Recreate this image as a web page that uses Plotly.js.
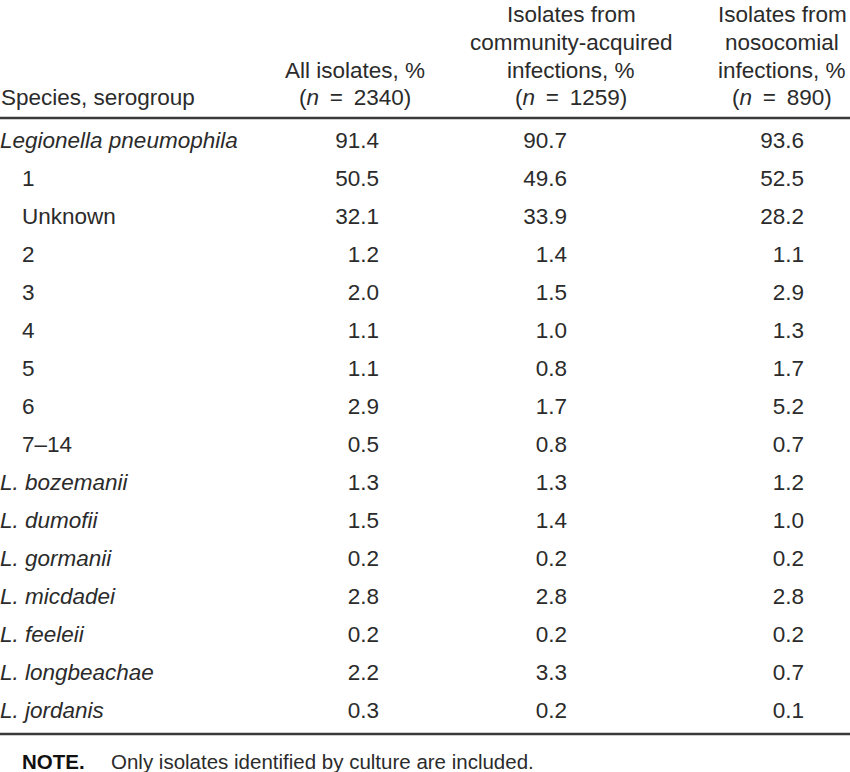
<!DOCTYPE html>
<html><head><meta charset="utf-8">
<script src="https://cdn.plot.ly/plotly-3.0.1.min.js"></script>
<style>body{margin:0;background:#fff}#c{width:850px;height:772px}</style>
</head><body><div id="c"></div>
<script>
const species = ["<i>Legionella pneumophila</i>","1","Unknown","2","3","4","5","6","7–14","<i>L. bozemanii</i>","<i>L. dumofii</i>","<i>L. gormanii</i>","<i>L. micdadei</i>","<i>L. feeleii</i>","<i>L. longbeachae</i>","<i>L. jordanis</i>"];
const indented = [false,true,true,true,true,true,true,true,true,false,false,false,false,false,false,false];
const allIsolates = ["91.4","50.5","32.1","1.2","2.0","1.1","1.1","2.9","0.5","1.3","1.5","0.2","2.8","0.2","2.2","0.3"];
const community = ["90.7","49.6","33.9","1.4","1.5","1.0","0.8","1.7","0.8","1.3","1.4","0.2","2.8","0.2","3.3","0.2"];
const nosocomial = ["93.6","52.5","28.2","1.1","2.9","1.3","1.7","5.2","0.7","1.2","1.0","0.2","2.8","0.2","0.7","0.1"];
const headerCol0 = ["Species, serogroup"];
const headerCol1 = ["All isolates, %","(<i>n</i> \u2009=\u2009 2340)"];
const headerCol2 = ["Isolates from","community-acquired","infections, %","(<i>n</i> \u2009=\u2009 1259)"];
const headerCol3 = ["Isolates from","nosocomial","infections, %","(<i>n</i> \u2009=\u2009 890)"];
const noteLabel = "NOTE.";
const noteText = "Only isolates identified by culture are included.";

const FONT = "Liberation Sans, Arial, sans-serif";
const COL = "#2b2b2b";
const FS = 22.5;
const rowY = species.map((_, i) => 142 + 38 * i);
const mk = (x, text, pos) => ({type:"scatter", mode:"text", x: x, y: rowY, text: text, textposition: pos,
  textfont:{family:FONT,size:FS,color:COL}, hoverinfo:"skip", showlegend:false, cliponaxis:false});
const traces = [
  mk(species.map((s,i)=> indented[i]?22:0), species, "middle right"),
  mk(allIsolates.map(()=>379), allIsolates, "middle left"),
  mk(community.map(()=>567), community, "middle left"),
  mk(nosocomial.map(()=>804), nosocomial, "middle left")
];
const headerLineY = [14.5, 42.5, 70, 97.5];
const hx = [0, 355, 571, 782];
const anns = [];
[headerCol0, headerCol1, headerCol2, headerCol3].forEach((lines, c) => {
  const off = headerLineY.length - lines.length;
  lines.forEach((t, j) => anns.push({x:hx[c], y:headerLineY[off + j], xref:"x", yref:"y", text:t, showarrow:false,
    xanchor: c===0?"left":"center", yanchor:"middle", borderpad:0,
    font:{family:FONT,size:FS,color:COL}}));
});
anns.push({x:20,y:761,xref:"x",yref:"y",text:"<b>"+noteLabel+"</b>",showarrow:false,xanchor:"left",yanchor:"middle",font:{family:FONT,size:20.5,color:"#111"}});
anns.push({x:109,y:761,xref:"x",yref:"y",text:noteText,showarrow:false,xanchor:"left",yanchor:"middle",font:{family:FONT,size:20.5,color:COL}});
const layout = {
  width:850,height:772,margin:{l:0,r:0,t:0,b:0},paper_bgcolor:"#fff",plot_bgcolor:"#fff",
  xaxis:{range:[0,850],visible:false,fixedrange:true},
  yaxis:{range:[772,0],visible:false,fixedrange:true},
  annotations:anns,
  shapes:[
    {type:"line",xref:"x",yref:"y",x0:0,x1:850,y0:118,y1:118,line:{color:"#3a3a3a",width:2.5}},
    {type:"line",xref:"x",yref:"y",x0:0,x1:850,y0:734,y1:734,line:{color:"#3a3a3a",width:2.5}}
  ]
};
Plotly.newPlot("c", traces, layout, {staticPlot:true});
</script></body></html>
